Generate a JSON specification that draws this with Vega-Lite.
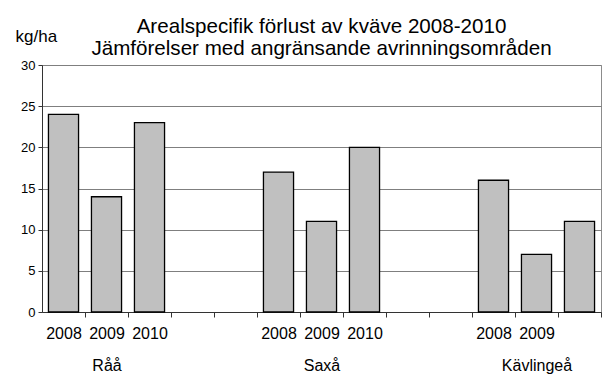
{
  "$schema": "https://vega.github.io/schema/vega-lite/v6.json",
  "width": 559,
  "height": 247,
  "autosize": {"type": "none"},
  "padding": {"left": 42, "top": 65, "right": 9, "bottom": 69},
  "background": "white",
  "config": {
    "font": "Liberation Sans",
    "view": {"stroke": "#8c8c8c", "strokeWidth": 1}
  },
  "title": {
    "text": ["Arealspecifik förlust av kväve 2008-2010", "Jämförelser med angränsande avrinningsområden"],
    "fontSize": 20.6,
    "fontWeight": "normal",
    "color": "black",
    "lineHeight": 22.5,
    "anchor": "middle",
    "offset": 14,
    "dy": 47
  },
  "data": {
    "values": [
      {"slot": "Råå 2008", "area": "Råå", "year": "2008", "value": 24},
      {"slot": "Råå 2009", "area": "Råå", "year": "2009", "value": 14},
      {"slot": "Råå 2010", "area": "Råå", "year": "2010", "value": 23},
      {"slot": "Saxå 2008", "area": "Saxå", "year": "2008", "value": 17},
      {"slot": "Saxå 2009", "area": "Saxå", "year": "2009", "value": 11},
      {"slot": "Saxå 2010", "area": "Saxå", "year": "2010", "value": 20},
      {"slot": "Kävlingeå 2008", "area": "Kävlingeå", "year": "2008", "value": 16},
      {"slot": "Kävlingeå 2009", "area": "Kävlingeå", "year": "2009", "value": 7},
      {"slot": "Kävlingeå 2010", "area": "Kävlingeå", "year": "2010", "value": 11}
    ]
  },
  "mark": {"type": "bar", "fill": "#c0c0c0", "stroke": "black", "strokeWidth": 1.3},
  "encoding": {
    "x": {
      "field": "slot",
      "type": "nominal",
      "sort": null,
      "scale": {
        "domain": ["Råå 2008", "Råå 2009", "Råå 2010", "gap1", "gap2", "Saxå 2008", "Saxå 2009", "Saxå 2010", "gap3", "gap4", "Kävlingeå 2008", "Kävlingeå 2009", "Kävlingeå 2010"],
        "paddingInner": 0.3,
        "paddingOuter": 0.15
      },
      "axis": {
        "title": null,
        "labelAngle": 0,
        "labelExpr": "indexof(datum.value, 'gap') == 0 || datum.value == 'Kävlingeå 2010' ? '' : datum.value == 'Råå 2009' ? ['2009', 'Råå'] : datum.value == 'Saxå 2009' ? ['2009', 'Saxå'] : datum.value == 'Kävlingeå 2009' ? ['2009', 'Kävlingeå'] : slice(datum.value, -4)",
        "labelFontSize": 16,
        "labelLineHeight": 32,
        "labelColor": "black",
        "labelPadding": 8,
        "tickOffset": 21.5,
        "labelOffset": -21.5,
        "tickSize": 5,
        "tickColor": "#333333",
        "domainColor": "#333333"
      }
    },
    "y": {
      "field": "value",
      "type": "quantitative",
      "scale": {"domain": [0, 30], "nice": false},
      "axis": {
        "values": [0, 5, 10, 15, 20, 25, 30],
        "title": "kg/ha",
        "titleAngle": 0,
        "titleAlign": "left",
        "titleBaseline": "alphabetic",
        "titleX": -27,
        "titleY": -24,
        "titleFontSize": 17,
        "titleFontWeight": "normal",
        "titleColor": "black",
        "labelFontSize": 13,
        "labelColor": "black",
        "labelPadding": 3,
        "tickSize": 4,
        "tickColor": "#333333",
        "domainColor": "#333333",
        "gridColor": "#7f7f7f",
        "gridWidth": 1
      }
    }
  }
}
